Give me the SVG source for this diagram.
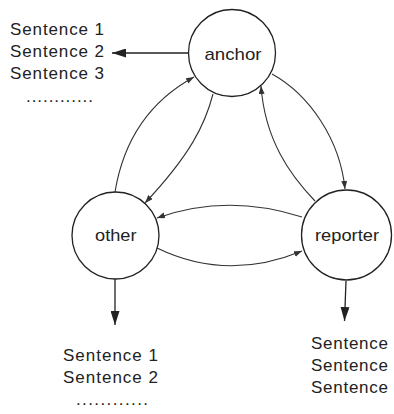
<svg xmlns="http://www.w3.org/2000/svg" width="394" height="414" viewBox="0 0 394 414">
<style>
text{font-family:"Liberation Sans",Arial,sans-serif;font-size:17px;fill:#222}
.node{fill:#fff;stroke:#222;stroke-width:1.3}
.edge{fill:none;stroke:#333;stroke-width:1.1}
.big{fill:none;stroke:#222;stroke-width:1.3}
</style>
<defs>
<marker id="sm" markerUnits="userSpaceOnUse" markerWidth="9" markerHeight="7" refX="8" refY="3" orient="auto"><path d="M0,0 L8,3 L0,6 z" fill="#333"/></marker>
<marker id="lg" markerUnits="userSpaceOnUse" markerWidth="15" markerHeight="9" refX="14" refY="4.5" orient="auto"><path d="M0,0 L14,4.5 L0,9 z" fill="#222"/></marker>
</defs>
<g id="connectors">
<path class="edge" d="M115,192 Q128,113 194,77" marker-end="url(#sm)"/>
<path class="edge" d="M213,94 C205,125 190,155 145,203" marker-end="url(#sm)"/>
<path class="edge" d="M315,201 C290,175 265,140 261,86" marker-end="url(#sm)"/>
<path class="edge" d="M272,74 C310,95 340,140 345,189" marker-end="url(#sm)"/>
<path class="edge" d="M302,217 Q227,193 157,218" marker-end="url(#sm)"/>
<path class="edge" d="M157,248 Q227,282 302,251" marker-end="url(#sm)"/>
<path class="big" d="M189,53 L112,53" marker-end="url(#lg)"/>
<path class="big" d="M115,279 L115,325" marker-end="url(#lg)"/>
<path class="big" d="M346,281 L344.5,321" marker-end="url(#lg)"/>
</g>
<g id="anchor">
<circle class="node" cx="232" cy="53" r="43.5"/>
<text x="204.5" y="60" textLength="57" lengthAdjust="spacingAndGlyphs">anchor</text>
</g>
<g id="other">
<circle class="node" cx="115.5" cy="235.5" r="43.5"/>
<text x="95" y="241" textLength="41.5" lengthAdjust="spacingAndGlyphs">other</text>
</g>
<g id="reporter">
<circle class="node" cx="346.5" cy="235" r="45"/>
<text x="315" y="240.5" textLength="64" lengthAdjust="spacingAndGlyphs">reporter</text>
</g>
<g id="anchor-sentences">
<text x="10" y="35" textLength="94">Sentence 1</text>
<text x="10" y="57" textLength="94">Sentence 2</text>
<text x="10" y="79" textLength="94">Sentence 3</text>
<text x="26" y="102" textLength="67">............</text>
</g>
<g id="other-sentences">
<text x="63" y="360.5" textLength="95">Sentence 1</text>
<text x="63" y="382.5" textLength="95">Sentence 2</text>
<text x="76" y="405" textLength="72">............</text>
</g>
<g id="reporter-sentences">
<text x="311" y="349" textLength="77">Sentence</text>
<text x="311" y="371" textLength="77">Sentence</text>
<text x="311" y="393" textLength="77">Sentence</text>
</g>
</svg>
